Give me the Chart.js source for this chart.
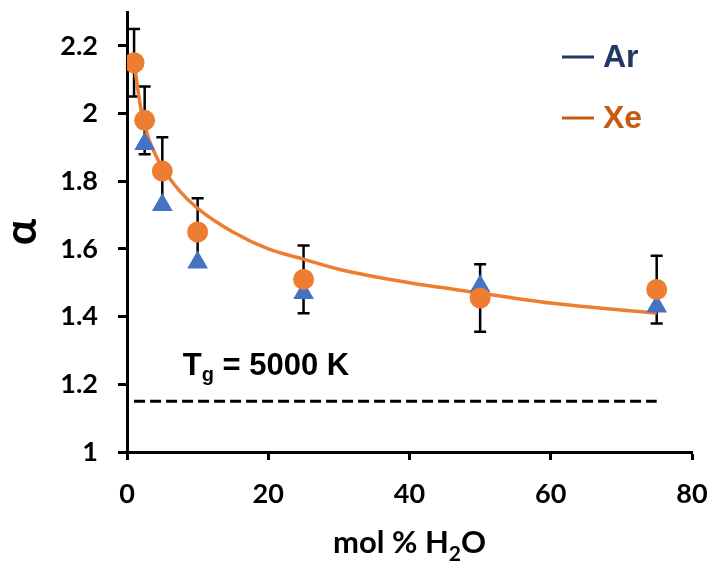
<!DOCTYPE html>
<html>
<head>
<meta charset="utf-8">
<script src="https://cdn.jsdelivr.net/npm/chart.js@4"></script>
<style>
  body { margin: 0; background: #fff; }
  #wrap { width: 713px; height: 564px; position: relative; }
</style>
</head>
<body>
<div id="wrap"><canvas id="chart"></canvas></div>
<script>
// mol % H2O for each measurement
const waterXe = [1, 2.5, 5, 10, 25, 50, 75];
const alphaXe = [2.15, 1.98, 1.83, 1.65, 1.51, 1.455, 1.48];
const errXe = [0.1, 0.1, 0.1, 0.1, 0.1, 0.1, 0.1];

const waterAr = [2.5, 5, 10, 25, 50, 75];
const alphaAr = [1.91, 1.73, 1.56, 1.47, 1.49, 1.43];

// fit curve
const fitX = [1, 2, 3, 4, 5, 7.5, 10, 15, 20, 25, 30, 40, 50, 60, 75];
const fitY = [2.15, 2.01, 1.93, 1.88, 1.84, 1.77, 1.72, 1.65, 1.60, 1.57, 1.54, 1.50, 1.47, 1.44, 1.41];

// Tg = 5000 K reference level
const refX = [1, 75];
const refY = [1.15, 1.15];

const xTicks = [0, 20, 40, 60, 80];
const yTicks = [1, 1.2, 1.4, 1.6, 1.8, 2, 2.2];

const ORANGE = '#ED7D31';
const BLUE = '#4472C4';

const pts = (xs, ys) => xs.map((x, i) => ({ x: x, y: ys[i] }));

const overlay = {
  id: 'overlay',
  beforeDatasetsDraw(chart) {
    const { ctx, scales: { x, y } } = chart;
    ctx.save();
    ctx.strokeStyle = '#000';
    ctx.lineWidth = 2.5;
    waterXe.forEach((w, i) => {
      const px = x.getPixelForValue(w);
      const top = y.getPixelForValue(alphaXe[i] + errXe[i]);
      const bot = y.getPixelForValue(alphaXe[i] - errXe[i]);
      ctx.beginPath();
      ctx.moveTo(px, top); ctx.lineTo(px, bot);
      ctx.moveTo(px - 6, top); ctx.lineTo(px + 6, top);
      ctx.moveTo(px - 6, bot); ctx.lineTo(px + 6, bot);
      ctx.stroke();
    });
    ctx.restore();
  },
  afterDraw(chart) {
    const { ctx, chartArea, scales: { x, y } } = chart;
    ctx.save();

    // legend
    const items = [['Ar', '#1F3864', 57], ['Xe', '#C55A11', 118]];
    items.forEach(([txt, col, ly]) => {
      ctx.strokeStyle = col;
      ctx.lineWidth = 3;
      ctx.beginPath();
      ctx.moveTo(562, ly); ctx.lineTo(594, ly);
      ctx.stroke();
      ctx.fillStyle = col;
      ctx.font = 'bold 32px "Liberation Sans", Arial, sans-serif';
      ctx.textBaseline = 'alphabetic';
      ctx.textAlign = 'left';
      ctx.fillText(txt, 603, ly + 10);
    });

    // Tg annotation
    ctx.fillStyle = '#000';
    let tx = x.getPixelForValue(7.9);
    const ty = y.getPixelForValue(1.227);
    ctx.font = 'bold 31px "Liberation Sans", Arial, sans-serif';
    ctx.fillText('T', tx, ty);
    tx += ctx.measureText('T').width;
    ctx.font = 'bold 20px "Liberation Sans", Arial, sans-serif';
    ctx.fillText('g', tx, ty + 6);
    tx += ctx.measureText('g').width;
    ctx.font = 'bold 31px "Liberation Sans", Arial, sans-serif';
    ctx.fillText(' = 5000 K', tx, ty);

    // x title with subscript
    const big = 'bold 31px Lato, sans-serif';
    const small = 'bold 21px Lato, sans-serif';
    ctx.font = big;
    const w1 = ctx.measureText('mol % H').width;
    const w3 = ctx.measureText('O').width;
    ctx.font = small;
    const w2 = ctx.measureText('2').width;
    let xx = (chartArea.left + chartArea.right) / 2 - (w1 + w2 + w3) / 2;
    const xb = 553;
    ctx.font = big;
    ctx.fillText('mol % H', xx, xb);
    xx += w1;
    ctx.font = small;
    ctx.fillText('2', xx, xb + 8);
    xx += w2;
    ctx.font = big;
    ctx.fillText('O', xx, xb);

    // y title
    ctx.translate(22, (chartArea.top + chartArea.bottom) / 2);
    ctx.rotate(-Math.PI / 2);
    ctx.textAlign = 'center';
    ctx.textBaseline = 'middle';
    ctx.font = 'bold 44px Lato, sans-serif';
    ctx.fillText('α', 0, 0);
    ctx.restore();
  }
};

new Chart(document.getElementById('chart'), {
  type: 'scatter',
  data: {
    datasets: [
      {
        label: 'Xe',
        data: pts(waterXe, alphaXe),
        pointStyle: 'circle',
        pointRadius: 10.5,
        backgroundColor: ORANGE,
        borderColor: ORANGE,
        borderWidth: 0,
        showLine: false
      },
      {
        label: 'Ar',
        data: pts(waterAr, alphaAr),
        pointStyle: 'triangle',
        pointRadius: 12,
        backgroundColor: BLUE,
        borderColor: BLUE,
        borderWidth: 0,
        showLine: false
      },
      {
        label: 'fit',
        data: pts(fitX, fitY),
        showLine: true,
        pointRadius: 0,
        borderColor: ORANGE,
        borderWidth: 3.5,
        cubicInterpolationMode: 'monotone',
        fill: false
      },
      {
        label: 'Tg',
        data: pts(refX, refY),
        showLine: true,
        pointRadius: 0,
        borderColor: '#000',
        borderWidth: 3,
        borderDash: [11, 5],
        fill: false
      }
    ]
  },
  options: {
    responsive: true,
    maintainAspectRatio: false,
    animation: false,
    layout: { padding: 0 },
    plugins: {
      legend: { display: false },
      tooltip: { enabled: false }
    },
    scales: {
      x: {
        type: 'linear',
        min: 0,
        max: 80,
        afterBuildTicks: (s) => { s.ticks = xTicks.map(v => ({ value: v })); },
        afterFit: (s) => {
          s.height = 112;
          s.paddingLeft = 0;
          s.paddingRight = 21;
        },
        border: { color: '#000', width: 3 },
        grid: { drawOnChartArea: false, tickLength: 8, tickWidth: 3, tickColor: '#000' },
        ticks: {
          color: '#000',
          padding: 18,
          maxRotation: 0,
          font: { family: 'Lato', weight: 'bold', size: 27 }
        }
      },
      y: {
        type: 'linear',
        min: 1,
        max: 2.3,
        afterBuildTicks: (s) => { s.ticks = yTicks.map(v => ({ value: v })); },
        afterFit: (s) => {
          s.width = 127;
          s.paddingTop = 8;
          s.paddingBottom = 0;
        },
        border: { color: '#000', width: 3 },
        grid: { drawOnChartArea: false, tickLength: 9, tickWidth: 3, tickColor: '#000' },
        ticks: {
          color: '#000',
          padding: 20,
          font: { family: 'Lato', weight: 'bold', size: 27 },
          callback: (v) => String(Math.round(v * 10) / 10)
        }
      }
    }
  },
  plugins: [overlay]
});
</script>
</body>
</html>
